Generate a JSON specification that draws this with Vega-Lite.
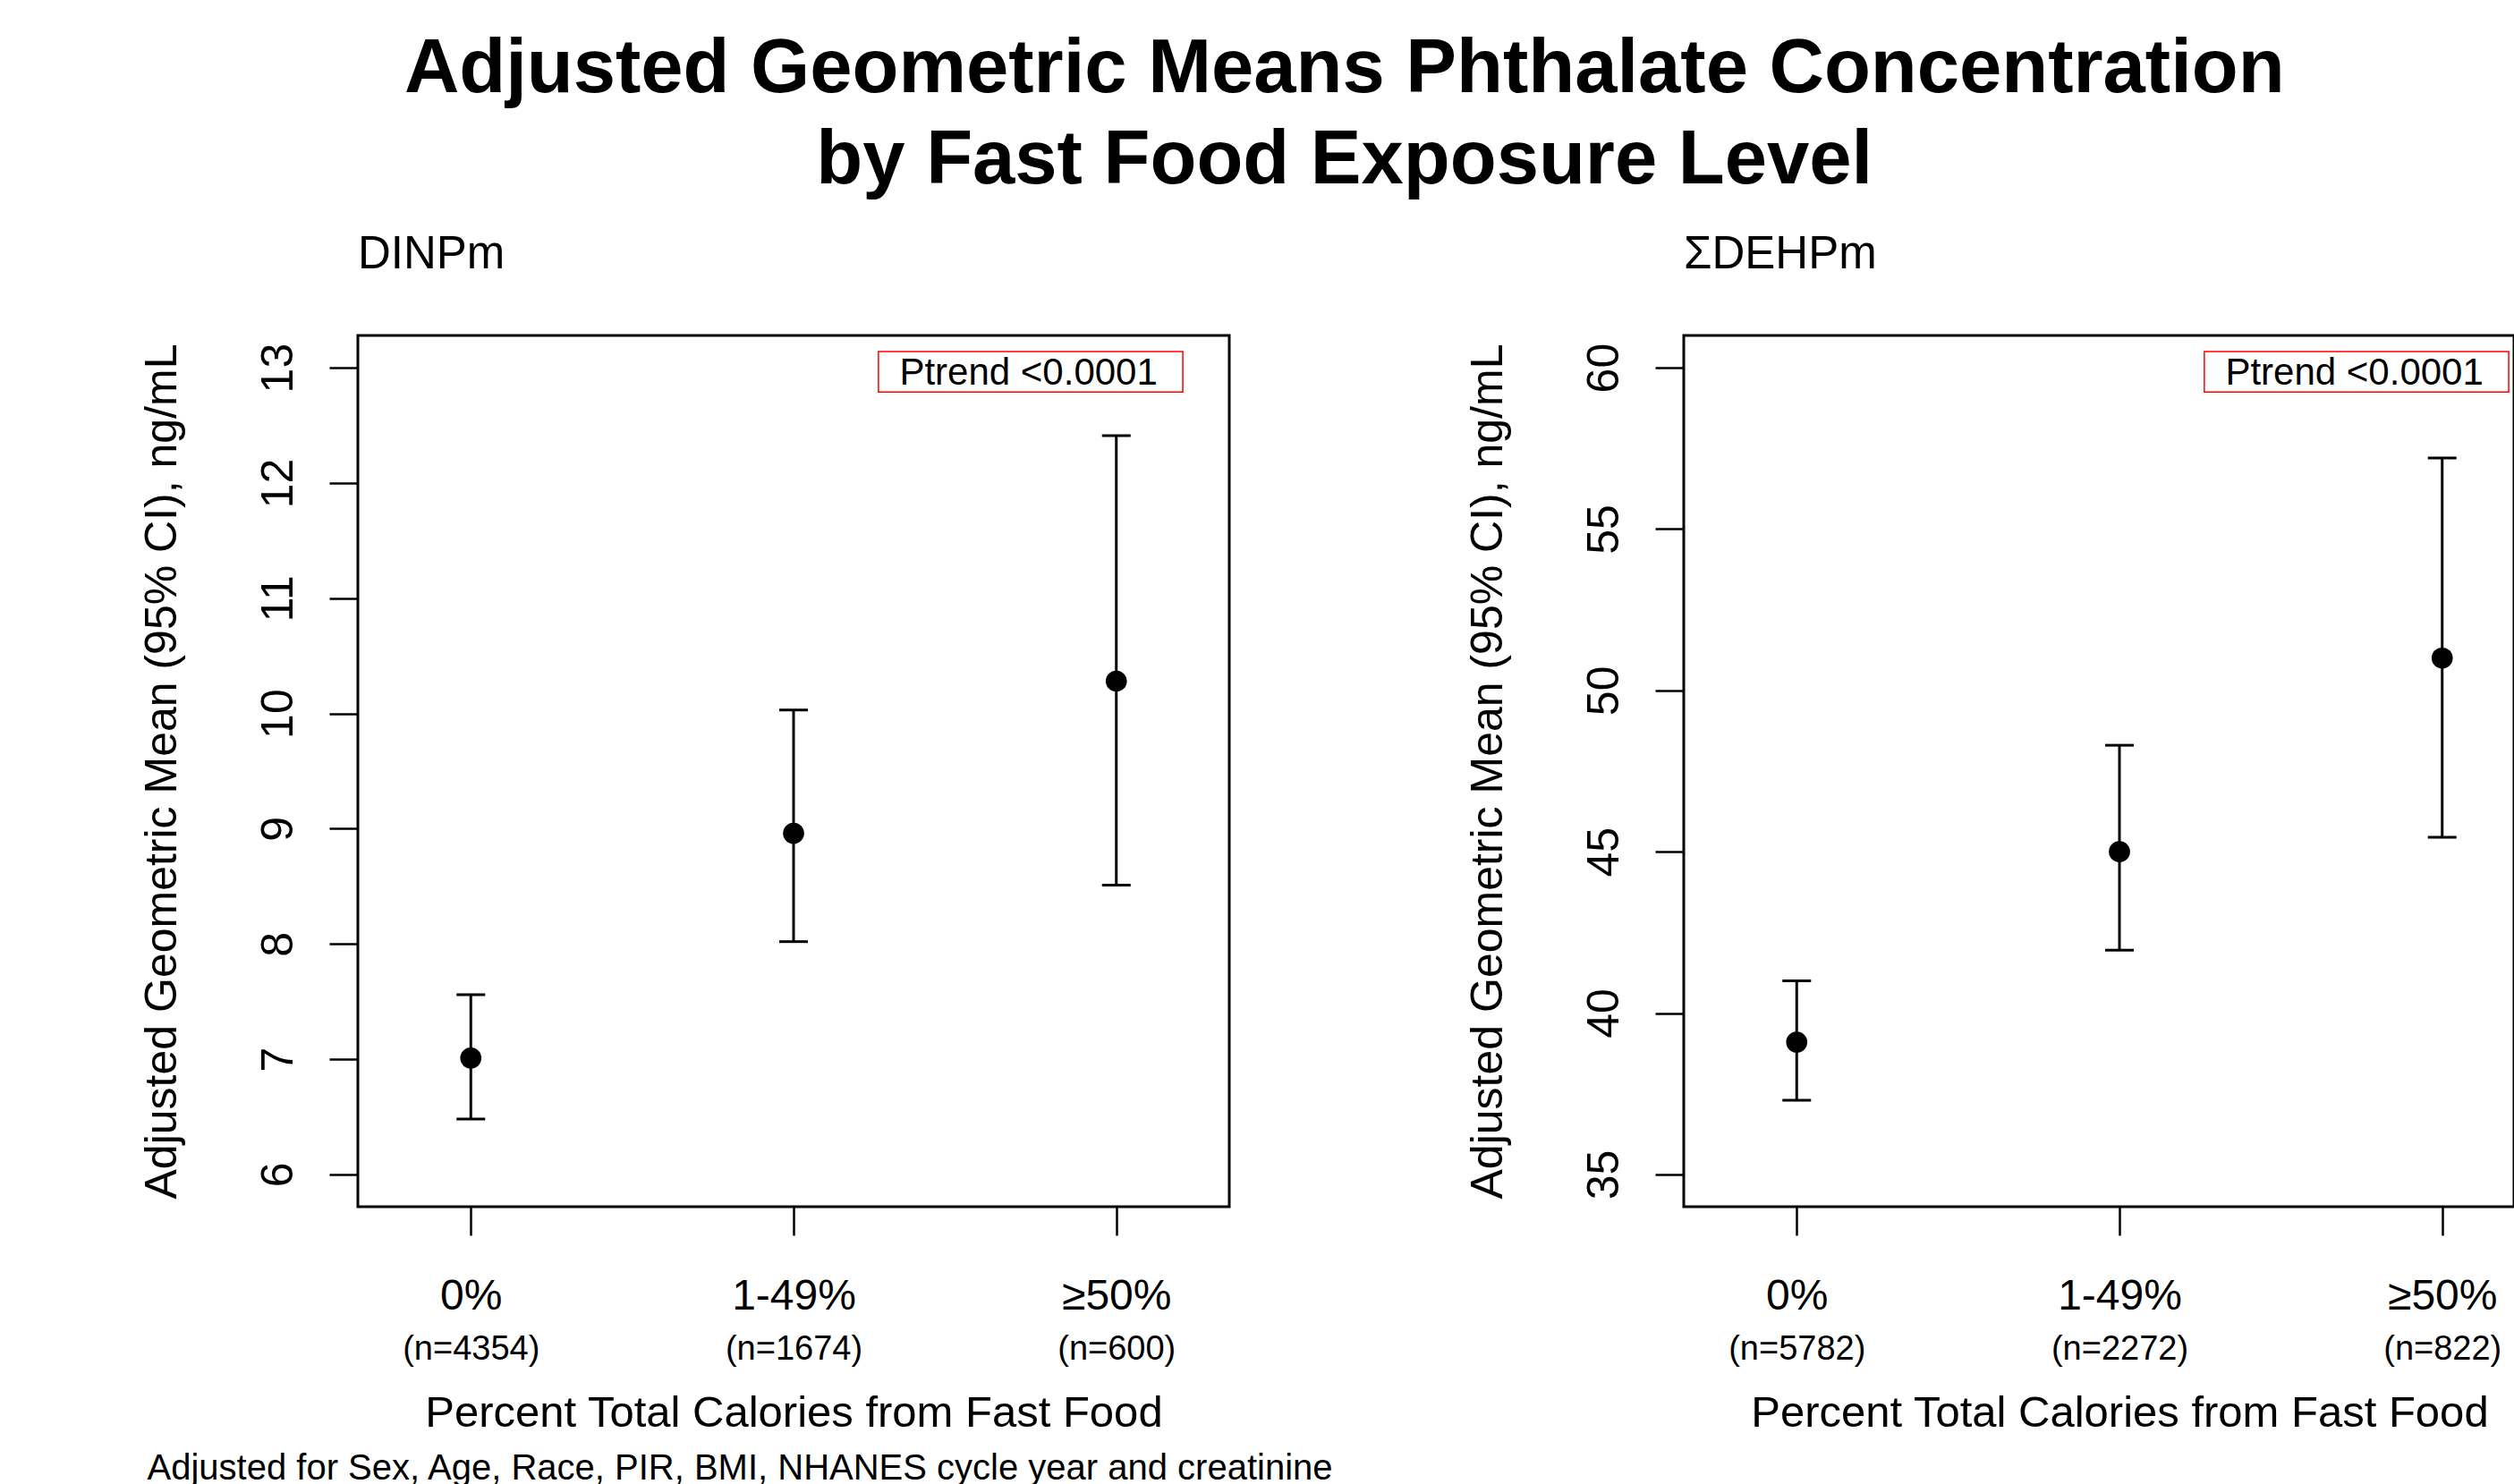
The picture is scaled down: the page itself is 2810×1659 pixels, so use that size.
{
  "$schema": "https://vega.github.io/schema/vega-lite/v6.json",
  "background": "white",
  "padding": {"left": 154, "top": 34, "right": 0, "bottom": 0},
  "datasets": {
    "dinp": [
      {"level": "0%", "nlab": "(n=4354)", "gm": 7.01, "lo": 6.48, "hi": 7.56},
      {"level": "1-49%", "nlab": "(n=1674)", "gm": 8.96, "lo": 8.02, "hi": 10.03},
      {"level": "≥50%", "nlab": "(n=600)", "gm": 10.28, "lo": 8.51, "hi": 12.41}
    ],
    "dehp": [
      {"level": "0%", "nlab": "(n=5782)", "gm": 39.1, "lo": 37.3, "hi": 41.0},
      {"level": "1-49%", "nlab": "(n=2272)", "gm": 45.0, "lo": 41.95, "hi": 48.3},
      {"level": "≥50%", "nlab": "(n=822)", "gm": 51.0, "lo": 45.45, "hi": 57.2}
    ],
    "note": [{"note": "Ptrend <0.0001"}]
  },
  "title": {
    "text": ["Adjusted Geometric Means Phthalate Concentration", "by Fast Food Exposure Level"],
    "fontSize": 85, "fontWeight": "bold", "lineHeight": 102, "anchor": "middle", "offset": 35, "dx": -3.5
  },
  "config": {
    "font": "Liberation Sans",
    "view": {"stroke": "black", "strokeWidth": 3},
    "axis": {"grid": false, "domain": false, "labelColor": "black", "titleColor": "black", "tickColor": "black", "labelFont": "Liberation Sans", "titleFont": "Liberation Sans", "titleFontWeight": "normal"},
    "title": {"color": "black", "font": "Liberation Sans"}
  },
  "spacing": 144,
  "hconcat": [
    {
      "title": {"text": "Adjusted for Sex, Age, Race, PIR, BMI, NHANES cycle year and creatinine", "orient": "bottom", "anchor": "start", "fontSize": 40, "fontWeight": "normal", "offset": 16, "dx": 9.5},
      "vconcat": [
        {
          "title": {"text": "DINPm", "anchor": "start", "frame": "group", "fontSize": 51, "fontWeight": "normal", "offset": 64},
          "width": 974, "height": 974,
          "data": {"name": "dinp"},
          "resolve": {"scale": {"x": "independent"}, "axis": {"x": "independent"}},
          "layer": [
            {
              "mark": {"type": "rule", "strokeWidth": 3, "color": "black"},
              "encoding": {
                "x": {"field": "nlab", "type": "nominal", "sort": null, "scale": {"type": "point", "range": [0, 974], "padding": 0.35},
                      "axis": {"orient": "bottom", "title": "Percent Total Calories from Fast Food", "titleFontSize": 49, "titlePadding": 28, "ticks": false, "tickSize": 0, "labelFontSize": 38, "labelPadding": 140, "labelAngle": 0}},
                "y": {"field": "lo", "type": "quantitative"},
                "y2": {"field": "hi"}
              }
            },
            {
              "layer": [
                {
                  "mark": {"type": "tick", "orient": "horizontal", "size": 32, "thickness": 3, "color": "black", "opacity": 1},
                  "encoding": {
                    "x": {"field": "level", "type": "nominal", "sort": null, "scale": {"type": "point", "range": [0, 974], "padding": 0.35},
                          "axis": {"orient": "bottom", "title": null, "tickSize": 32, "tickWidth": 2.5, "labelFontSize": 48, "labelPadding": 44, "labelAngle": 0}},
                    "y": {"field": "lo", "type": "quantitative"}
                  }
                },
                {
                  "mark": {"type": "tick", "orient": "horizontal", "size": 32, "thickness": 3, "color": "black", "opacity": 1},
                  "encoding": {
                    "x": {"field": "level", "type": "nominal", "sort": null},
                    "y": {"field": "hi", "type": "quantitative"}
                  }
                },
                {
                  "mark": {"type": "point", "filled": true, "shape": "circle", "size": 560, "color": "black", "opacity": 1},
                  "encoding": {
                    "x": {"field": "level", "type": "nominal", "sort": null},
                    "y": {"field": "gm", "type": "quantitative", "scale": {"domain": [5.72, 13.28], "nice": false, "zero": false},
                          "axis": {"values": [6, 7, 8, 9, 10, 11, 12, 13], "format": "d", "title": "Adjusted Geometric Mean (95% CI), ng/mL", "titleFontSize": 50, "titlePadding": 80, "tickSize": 32, "tickWidth": 2.5, "labelFontSize": 50, "labelAngle": -90, "labelPadding": 31.5, "labelFlush": false, "labelOverlap": false}}
                  }
                }
              ]
            },
            {
              "data": {"name": "note"},
              "layer": [
                {
                  "mark": {"type": "rect", "fillOpacity": 0, "stroke": "red", "strokeWidth": 1.5},
                  "encoding": {
                    "x": {"datum": 2.263, "type": "quantitative", "scale": {"domain": [0.65, 3.35], "range": [0, 974], "nice": false, "zero": false}, "axis": null},
                    "x2": {"datum": 3.206},
                    "y": {"datum": 13.14, "type": "quantitative"},
                    "y2": {"datum": 12.79}
                  }
                },
                {
                  "mark": {"type": "text", "fontSize": 42, "align": "center", "baseline": "alphabetic", "color": "black"},
                  "encoding": {
                    "x": {"datum": 2.728, "type": "quantitative"},
                    "y": {"datum": 12.855, "type": "quantitative"},
                    "text": {"field": "note"}
                  }
                }
              ]
            }
          ]
        }
      ]
    },
    {
      "title": {"text": "ΣDEHPm", "anchor": "start", "frame": "group", "fontSize": 51, "fontWeight": "normal", "offset": 64},
      "width": 928, "height": 974,
      "data": {"name": "dehp"},
      "resolve": {"scale": {"x": "independent"}, "axis": {"x": "independent"}},
      "layer": [
        {
          "mark": {"type": "rule", "strokeWidth": 3, "color": "black"},
          "encoding": {
            "x": {"field": "nlab", "type": "nominal", "sort": null, "scale": {"type": "point", "range": [0, 974], "padding": 0.35},
                  "axis": {"orient": "bottom", "title": "Percent Total Calories from Fast Food", "titleFontSize": 49, "titlePadding": 28, "ticks": false, "tickSize": 0, "labelFontSize": 38, "labelPadding": 140, "labelAngle": 0}},
            "y": {"field": "lo", "type": "quantitative"},
            "y2": {"field": "hi"}
          }
        },
        {
          "layer": [
            {
              "mark": {"type": "tick", "orient": "horizontal", "size": 32, "thickness": 3, "color": "black", "opacity": 1},
              "encoding": {
                "x": {"field": "level", "type": "nominal", "sort": null, "scale": {"type": "point", "range": [0, 974], "padding": 0.35},
                      "axis": {"orient": "bottom", "title": null, "tickSize": 32, "tickWidth": 2.5, "labelFontSize": 48, "labelPadding": 44, "labelAngle": 0}},
                "y": {"field": "lo", "type": "quantitative"}
              }
            },
            {
              "mark": {"type": "tick", "orient": "horizontal", "size": 32, "thickness": 3, "color": "black", "opacity": 1},
              "encoding": {
                "x": {"field": "level", "type": "nominal", "sort": null},
                "y": {"field": "hi", "type": "quantitative"}
              }
            },
            {
              "mark": {"type": "point", "filled": true, "shape": "circle", "size": 560, "color": "black", "opacity": 1},
              "encoding": {
                "x": {"field": "level", "type": "nominal", "sort": null},
                "y": {"field": "gm", "type": "quantitative", "scale": {"domain": [34, 61], "nice": false, "zero": false},
                      "axis": {"values": [35, 40, 45, 50, 55, 60], "format": "d", "title": "Adjusted Geometric Mean (95% CI), ng/mL", "titleFontSize": 50, "titlePadding": 80, "tickSize": 32, "tickWidth": 2.5, "labelFontSize": 50, "labelAngle": -90, "labelPadding": 31.5, "labelFlush": false, "labelOverlap": false}}
              }
            }
          ]
        },
        {
          "data": {"name": "note"},
          "layer": [
            {
              "mark": {"type": "rect", "fillOpacity": 0, "stroke": "red", "strokeWidth": 1.5},
              "encoding": {
                "x": {"datum": 2.263, "type": "quantitative", "scale": {"domain": [0.65, 3.35], "range": [0, 974], "nice": false, "zero": false}, "axis": null},
                "x2": {"datum": 3.206},
                "y": {"datum": 60.5, "type": "quantitative"},
                "y2": {"datum": 59.25}
              }
            },
            {
              "mark": {"type": "text", "fontSize": 42, "align": "center", "baseline": "alphabetic", "color": "black"},
              "encoding": {
                "x": {"datum": 2.728, "type": "quantitative"},
                "y": {"datum": 59.48, "type": "quantitative"},
                "text": {"field": "note"}
              }
            }
          ]
        }
      ]
    }
  ]
}
